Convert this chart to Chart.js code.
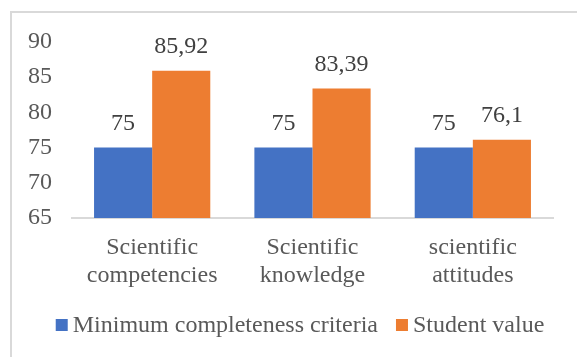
<!DOCTYPE html>
<html>
<head>
<meta charset="utf-8">
<script src="https://cdn.jsdelivr.net/npm/chart.js@4/dist/chart.umd.min.js"></script>
<style>
  html, body { margin: 0; padding: 0; background: #fff; overflow: hidden; }
  #frame { position: absolute; left: 10px; top: 11px; width: 700px; height: 500px;
           border-left: 2px solid #d9d9d9; border-top: 2px solid #d9d9d9; }
  #wrap { position: absolute; left: 0; top: 0; width: 577px; height: 357px; }
</style>
</head>
<body>
<div id="frame"></div>
<div id="wrap"><canvas id="c" width="577" height="357"></canvas></div>
<script>
const categories = [["Scientific", "competencies"], ["Scientific", "knowledge"], ["scientific", "attitudes"]];
const seriesNames = ["Minimum completeness criteria", "Student value"];
const minimumCriteria = [75, 75, 75];
const studentValue = [85.92, 83.39, 76.1];
const yTicks = [65, 70, 75, 80, 85, 90];

const FONT = "'Liberation Serif', 'Times New Roman', serif";

const valueLabels = {
  id: 'valueLabels',
  afterDatasetsDraw(chart) {
    const ctx = chart.ctx;
    ctx.save();
    ctx.font = '24px ' + FONT;
    ctx.fillStyle = '#404040';
    ctx.textAlign = 'center';
    ctx.textBaseline = 'alphabetic';
    chart.data.datasets.forEach((ds, i) => {
      chart.getDatasetMeta(i).data.forEach((bar, j) => {
        const txt = String(ds.data[j]).replace('.', ',');
        ctx.fillText(txt, bar.x, bar.y - 18);
      });
    });
    ctx.restore();
  }
};

// legend drawn from the chart's own dataset labels/colours
const bottomLegend = {
  id: 'bottomLegend',
  afterDraw(chart) {
    const ctx = chart.ctx;
    ctx.save();
    ctx.font = '24px ' + FONT;
    ctx.textBaseline = 'middle';
    ctx.textAlign = 'left';
    const box = 12, gap = 5, spacing = 18, cy = 325, centerX = 300;
    const items = chart.data.datasets.map(ds => ({ text: ds.label, color: ds.backgroundColor, w: ctx.measureText(ds.label).width }));
    let total = 0;
    items.forEach((it, i) => { total += box + gap + it.w + (i ? spacing : 0); });
    let x = centerX - total / 2;
    items.forEach(it => {
      ctx.fillStyle = it.color;
      ctx.fillRect(x, cy - box / 2, box, box);
      ctx.fillStyle = '#595959';
      ctx.fillText(it.text, x + box + gap, cy + 1);
      x += box + gap + it.w + spacing;
    });
    ctx.restore();
  }
};

new Chart(document.getElementById('c'), {
  type: 'bar',
  data: {
    labels: categories,
    datasets: [
      { label: seriesNames[0], data: minimumCriteria, backgroundColor: '#4472C4' },
      { label: seriesNames[1], data: studentValue, backgroundColor: '#ED7D31' }
    ]
  },
  options: {
    responsive: false,
    animation: false,
    layout: { padding: { left: 10, right: 24, top: 42, bottom: 54 } },
    datasets: { bar: { categoryPercentage: 0.725, barPercentage: 1.0 } },
    plugins: {
      legend: { display: false },
      tooltip: { enabled: false }
    },
    scales: {
      x: {
        grid: { display: false, drawTicks: false },
        border: { display: true, color: '#d9d9d9', width: 2 },
        ticks: { font: { family: FONT, size: 24, lineHeight: 1.2 }, color: '#595959', padding: 15, maxRotation: 0 },
        afterFit(s) { s.height = 85; }
      },
      y: {
        min: 65, max: 90,
        afterBuildTicks(s) { s.ticks = yTicks.map(v => ({ value: v })); },
        grid: { display: false, drawTicks: false },
        border: { display: false },
        ticks: { font: { family: FONT, size: 24 }, color: '#595959', padding: 20 },
        afterFit(s) { s.width = 62; }
      }
    }
  },
  plugins: [valueLabels, bottomLegend]
});
</script>
</body>
</html>
